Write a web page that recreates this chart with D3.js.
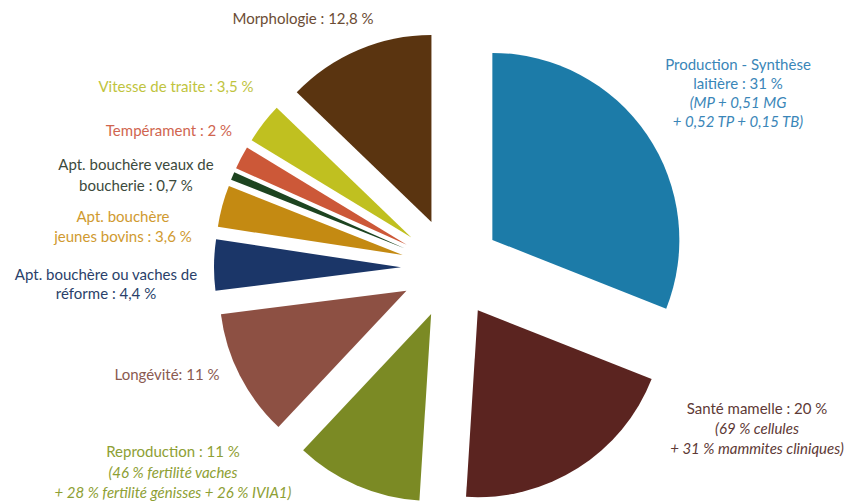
<!DOCTYPE html>
<html>
<head>
<meta charset="utf-8">
<script src="https://cdn.jsdelivr.net/npm/d3@7"></script>
<style>
  body { margin: 0; background: #fff; }
  svg { display: block; }
  text { font-family: Lato, "Open Sans", sans-serif; font-size: 15px; }
</style>
</head>
<body>
<svg id="chart"></svg>
<script>
// categories and shares (%), clockwise from 12 o'clock
const categories = [
  'Production', 'Santé mamelle', 'Reproduction', 'Longévité',
  'Apt. bouchère vaches', 'Apt. bouchère jeunes bovins', 'Apt. bouchère veaux',
  'Tempérament', 'Vitesse de traite', 'Morphologie'
];
const shares = [31, 20, 11, 11, 4.4, 3.6, 0.7, 2, 3.5, 12.8];

// label text, line by line (italic from the given line index)
const labelLines = [
  ['Production - Synthèse', 'laitière : 31 %', '(MP + 0,51 MG', '+ 0,52 TP + 0,15 TB)'],
  ['Santé mamelle : 20 %', '(69 % cellules', '+ 31 % mammites cliniques)'],
  ['Reproduction : 11 %', '(46 % fertilité vaches', '+ 28 % fertilité génisses + 26 % IVIA1)'],
  ['Longévité: 11 %'],
  ['Apt. bouchère ou vaches de', 'réforme : 4,4 %'],
  ['Apt. bouchère', 'jeunes bovins : 3,6 %'],
  ['Apt. bouchère veaux de', 'boucherie : 0,7 %'],
  ['Tempérament : 2 %'],
  ['Vitesse de traite : 3,5 %'],
  ['Morphologie : 12,8 %']
];
const italicFrom = [2, 1, 1, 9, 9, 9, 9, 9, 9, 9];

const sliceColors = [
  '#1c7ba8', '#5b2420', '#7b8a24', '#8d5043', '#1b3668',
  '#c48a12', '#1d4420', '#cc5838', '#c0c020', '#5a3410'
];
const textColors = [
  '#3a86b8', '#5e3a36', '#8ea034', '#8a5a50', '#2a3f6a',
  '#d09a30', '#3c4a3c', '#d0654f', '#bfc43e', '#6b4c34'
];

// label anchors: x centre, first baseline, line step
const labelAnchors = [
  [738, 70, 19], [757, 414, 20], [173, 457, 20.5], [167, 380, 20], [106, 280, 19],
  [123, 222, 20], [136, 170, 21], [169, 136, 20], [176, 92, 20], [303, 24, 20]
];

const width = 853;
const height = 504;
const cx = 451;
const cy = 268;
const radius = 187;
const explode = 50;

const svg = d3.select('#chart')
  .attr('width', width)
  .attr('height', height);

const pie = d3.pie().sort(null).value((d) => d);
const arc = d3.arc().innerRadius(0).outerRadius(radius);
const arcs = pie(shares);

// pie slices, each pushed out along its bisector
svg.append('g')
  .attr('transform', `translate(${cx}, ${cy})`)
  .selectAll('path')
  .data(arcs)
  .enter()
  .append('path')
  .attr('d', arc)
  .attr('fill', (d, i) => sliceColors[i])
  .attr('transform', (d) => {
    const mid = (d.startAngle + d.endAngle) / 2;
    return `translate(${explode * Math.sin(mid)}, ${-explode * Math.cos(mid)})`;
  });

// labels
const labels = svg.append('g')
  .selectAll('text')
  .data(categories)
  .enter()
  .append('text')
  .attr('text-anchor', 'middle')
  .attr('fill', (d, i) => textColors[i])
  .attr('x', (d, i) => labelAnchors[i][0])
  .attr('y', (d, i) => labelAnchors[i][1]);

labels.each(function (d, i) {
  const [x, , step] = labelAnchors[i];
  d3.select(this)
    .selectAll('tspan')
    .data(labelLines[i])
    .enter()
    .append('tspan')
    .attr('x', x)
    .attr('dy', (t, j) => (j === 0 ? 0 : step))
    .attr('font-style', (t, j) => (j >= italicFrom[i] ? 'italic' : 'normal'))
    .text((t) => t);
});
</script>
</body>
</html>
